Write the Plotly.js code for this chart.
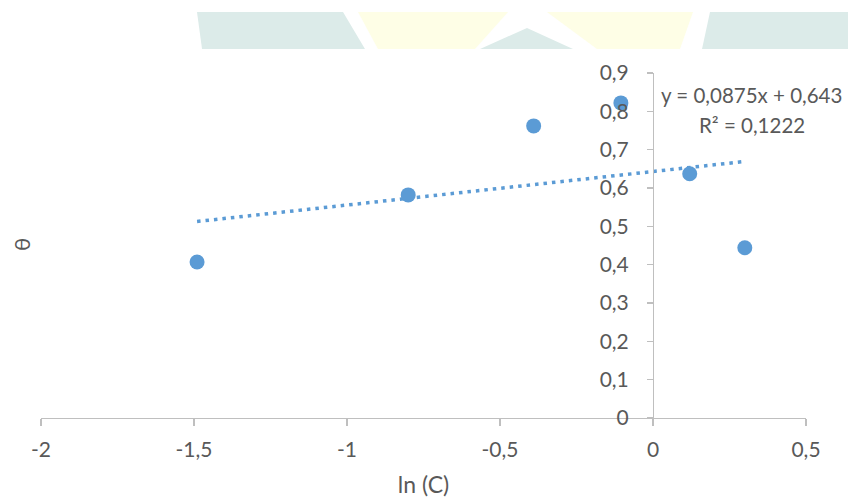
<!DOCTYPE html>
<html>
<head>
<meta charset="utf-8">
<script src="https://cdn.plot.ly/plotly-3.0.1.min.js"></script>
<style>html,body{margin:0;padding:0;background:#fff;}#chart{width:848px;height:499px;}</style>
</head>
<body>
<div id="chart"></div>
<script>
// Data
const lnC = [-1.49, -0.80, -0.39, -0.105, 0.12, 0.30];
const theta = [0.407, 0.582, 0.762, 0.822, 0.637, 0.444];
const trendSlope = 0.0875;
const trendIntercept = 0.643;
const trendLabel = "y = 0,0875x + 0,643";
const r2Label = "R² = 0,1222";
const xTicks = [-2, -1.5, -1, -0.5, 0, 0.5];
const xTickText = ["-2", "-1,5", "-1", "-0,5", "0", "0,5"];
const yTicks = [0, 0.1, 0.2, 0.3, 0.4, 0.5, 0.6, 0.7, 0.8, 0.9];
const yTickText = ["0", "0,1", "0,2", "0,3", "0,4", "0,5", "0,6", "0,7", "0,8", "0,9"];

const W = 848, H = 499, L = 41, R = 42, T = 73, B = 81;
const pw = W - L - R, ph = H - T - B;
function px(x){ return (x - L) / pw; }
function py(y){ return (H - B - y) / ph; }
function poly(pts){
  return 'M' + pts.map(p => px(p[0]).toFixed(4) + ',' + py(p[1]).toFixed(4)).join(' L') + ' Z';
}
const teal = '#DCEBE9', yellow = '#FEFEE6';
const deco = [
  {pts: [[197,12],[343,12],[365,49],[202,49]], c: teal},
  {pts: [[358,12],[508,12],[475,49],[378,49]], c: yellow},
  {pts: [[527,28],[573,49],[480,49]], c: teal},
  {pts: [[547,12],[693,12],[680,49],[597,49]], c: yellow},
  {pts: [[710,12],[848,12],[848,49],[702,49]], c: teal}
].map(d => ({type:'path', xref:'paper', yref:'paper', path: poly(d.pts), fillcolor: d.c, line:{width:0}, layer:'below'}));

const xmin = Math.min(...lnC), xmax = Math.max(...lnC);
const trend = {
  x: [xmin, xmax],
  y: [trendSlope*xmin + trendIntercept, trendSlope*xmax + trendIntercept],
  mode: 'lines', type: 'scatter',
  line: {color: '#5B9BD5', width: 3.5, dash: '3.5px,5px'},
  hoverinfo: 'skip'
};
const pts = {
  x: lnC, y: theta, mode: 'markers', type: 'scatter',
  marker: {color: '#5B9BD5', size: 15},
  cliponaxis: false
};
const fontFam = 'Lato, "Open Sans", sans-serif';
const grey = '#595959';
const layout = {
  width: W, height: H,
  margin: {l: L, r: R, t: T, b: B, pad: 0},
  paper_bgcolor: '#fff', plot_bgcolor: 'rgba(0,0,0,0)',
  showlegend: false,
  separators: ', ',
  font: {family: fontFam, color: grey, size: 21},
  shapes: deco,
  xaxis: {
    range: [-2, 0.5], domain: [0, 1],
    tickvals: xTicks, ticktext: xTickText,
    showgrid: false, zeroline: false,
    showline: true, linecolor: '#BFBFBF', linewidth: 1.3,
    ticks: 'outside', ticklen: 7, tickcolor: '#BFBFBF', tickwidth: 1.3,
    ticklabelstandoff: 5,
    tickfont: {size: 21, color: grey},
    title: {text: 'ln (C)', font: {size: 23, color: grey}, standoff: 17}
  },
  yaxis: {
    range: [0, 0.9], anchor: 'free', position: 0.8,
    tickvals: yTicks, ticktext: yTickText,
    showgrid: false, zeroline: false,
    showline: true, linecolor: '#BFBFBF', linewidth: 1.3,
    ticks: 'outside', ticklen: 6, tickcolor: '#BFBFBF', tickwidth: 1.3,
    ticklabelstandoff: 14,
    tickfont: {size: 21, color: grey},
    title: {text: ''}
  },
  annotations: [
    {xref:'x', yref:'y', x: 0.322, y: 0.843, xanchor:'center', yanchor:'middle', text: trendLabel, showarrow:false, font:{size:20.5, color:grey}},
    {xref:'x', yref:'y', x: 0.322, y: 0.765, xanchor:'center', yanchor:'middle', text: r2Label, showarrow:false, font:{size:20.5, color:grey}},
    {xref:'paper', yref:'paper', x: px(21), y: py(245), xanchor:'center', yanchor:'middle', text: 'θ', textangle: -90, showarrow:false, font:{size:22, color:grey}}
  ]
};
Plotly.newPlot('chart', [trend, pts], layout, {displayModeBar: false, staticPlot: true});
</script>
</body>
</html>
